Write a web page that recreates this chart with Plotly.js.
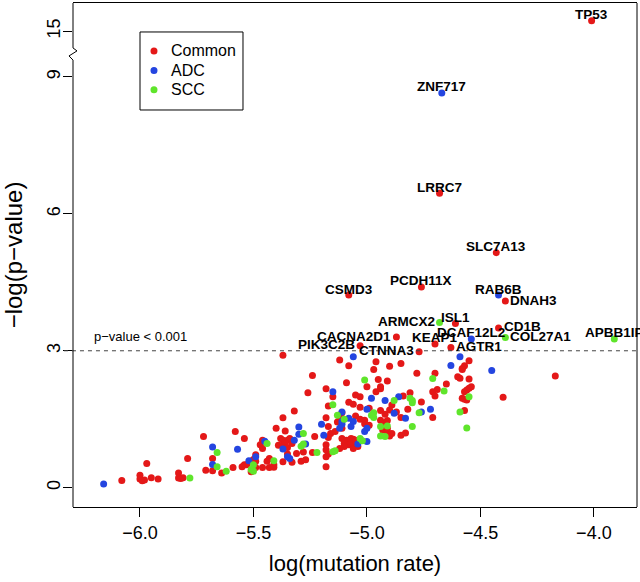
<!DOCTYPE html>
<html>
<head>
<meta charset="utf-8">
<script src="https://cdn.plot.ly/plotly-3.0.1.min.js"></script>
<style>
  html, body { margin: 0; padding: 0; background: #fff; }
  #chart { width: 640px; height: 582px; }
</style>
</head>
<body>
<div id="chart"></div>
<script>
// ---- data: log(mutation rate) vs -log(p-value), by group ----
const commonX = [
  -6.08, -6.00, -6.00, -5.99, -5.98, -5.95, -5.92, -5.97, -5.83, -5.83, -5.82, -5.81, -5.79, -5.72, -5.71,
  -5.68, -5.68, -5.64, -5.51, -5.37, -5.12, -5.24, -5.26, -5.18, -5.15, -5.32, -5.17, -5.37, -5.18, -5.13,
  -5.17, -5.40, -5.36, -5.23, -5.16, -5.14, -5.17, -5.11, -5.58, -5.54, -5.46, -5.47, -5.46, -5.38, -5.37,
  -5.35, -5.34, -5.39, -5.37, -5.36, -5.35, -5.33, -5.24, -5.28, -5.31, -5.35, -5.37, -5.33, -5.29, -5.27,
  -5.18, -5.18, -5.17, -5.18, -5.18, -5.59, -5.54, -5.53, -5.55, -5.49, -5.49, -5.50, -5.49, -5.46, -5.43,
  -5.41, -5.41, -5.44, -5.43, -4.96, -4.85, -5.08, -4.97, -4.78, -4.70, -4.58, -4.57, -4.60, -4.59, -4.95,
  -4.91, -5.09, -5.00, -4.94, -4.94, -4.96, -4.81, -4.71, -4.69, -4.70, -4.65, -5.05, -5.03, -4.84, -4.76,
  -4.89, -5.08, -5.06, -5.03, -4.99, -4.94, -4.92, -4.90, -4.87, -4.82, -4.71, -4.85, -5.11, -5.12, -5.05,
  -5.03, -5.01, -5.01, -4.99, -4.94, -4.92, -4.91, -4.93, -4.91, -4.91, -4.90, -4.89, -4.85, -4.83, -5.11,
  -5.09, -5.07, -5.06, -5.10, -5.08, -5.07, -5.05, -5.05, -5.10, -5.06, -5.04, -5.12, -4.55, -4.58, -4.17,
  -4.55, -4.55, -4.54, -4.56, -4.57, -4.57, -4.56, -4.58, -4.40, -4.57, -4.90
];
const commonY = [
  0.16, 0.27, 0.19, 0.15, 0.17, 0.22, 0.19, 0.53, 0.32, 0.21, 0.20, 0.22, 0.64, 1.12, 0.38,
  0.37, 0.64, 0.32, 0.35, 2.90, 2.80, 2.46, 2.08, 2.17, 1.99, 1.68, 1.79, 1.53, 1.53, 1.44,
  1.34, 1.30, 1.24, 1.12, 1.19, 1.23, 1.10, 1.30, 1.23, 1.08, 1.04, 0.94, 0.86, 1.08, 1.04,
  1.04, 1.08, 0.93, 0.93, 0.99, 0.88, 0.97, 0.77, 0.78, 0.75, 0.74, 0.57, 0.56, 0.58, 0.61,
  0.94, 0.83, 0.74, 0.68, 0.46, 0.44, 0.50, 0.50, 0.46, 0.72, 0.58, 0.62, 0.44, 0.44, 0.44,
  0.50, 0.45, 0.58, 0.64, 2.76, 2.72, 2.67, 2.59, 2.51, 2.51, 2.61, 2.67, 2.43, 2.40, 2.37,
  2.34, 2.30, 2.21, 2.21, 2.17, 2.10, 2.08, 2.10, 2.15, 2.01, 2.27, 2.03, 1.99, 2.01, 1.88,
  1.81, 1.87, 1.83, 1.76, 1.74, 1.69, 1.61, 1.70, 1.66, 1.72, 1.54, 1.54, 1.64, 1.55, 1.57,
  1.50, 1.48, 1.40, 1.37, 1.48, 1.42, 1.47, 1.26, 1.23, 1.30, 1.13, 1.19, 1.15, 1.20, 1.08,
  1.04, 1.08, 1.06, 0.97, 0.94, 0.97, 0.99, 1.04, 0.90, 0.86, 0.90, 0.86, 2.78, 2.59, 2.45,
  2.38, 2.18, 2.21, 2.14, 2.10, 1.94, 1.92, 1.96, 1.98, 1.69, 2.66
];

const adcX = [
  -6.16, -5.68, -5.68, -5.15, -5.11, -5.20, -5.11, -5.30, -5.30, -5.19, -5.45, -5.37, -5.32, -5.27, -5.35,
  -5.34, -5.57, -5.52, -5.49, -5.06, -4.63, -4.59, -4.98, -4.92, -4.86, -5.00, -4.88, -4.76, -4.72, -4.83,
  -5.11, -5.08, -5.07, -5.06, -5.00, -5.01, -5.12, -5.04, -5.00, -4.45
];
const adcY = [
  0.08, 0.89, 0.51, 2.10, 1.66, 1.39, 1.39, 1.33, 1.17, 1.15, 1.02, 0.85, 1.04, 0.96, 0.68,
  0.64, 0.84, 0.59, 0.68, 2.87, 2.68, 2.87, 1.96, 1.91, 1.99, 1.72, 1.63, 1.66, 1.72, 1.52,
  1.45, 1.52, 1.34, 1.45, 1.30, 1.23, 1.30, 0.96, 1.01, 2.57
];

const sccX = [
  -5.78, -5.66, -5.66, -5.62, -5.15, -5.13, -5.28, -5.44, -5.29, -5.28, -5.22, -5.15, -5.50, -5.51, -5.50,
  -5.41, -5.01, -4.71, -4.66, -4.88, -4.81, -4.80, -4.80, -4.97, -4.98, -4.97, -4.77, -5.10, -4.94, -4.91,
  -4.94, -4.92, -4.80, -5.03, -5.02, -5.14, -4.55, -4.59, -4.56
];
const sccY = [
  0.21, 0.77, 0.46, 0.36, 1.82, 1.59, 1.19, 0.97, 0.91, 0.96, 0.77, 0.79, 0.50, 0.40, 0.36,
  0.59, 2.36, 2.39, 2.12, 1.91, 1.96, 1.91, 1.86, 1.64, 1.59, 1.54, 1.64, 1.50, 1.34, 1.35,
  1.13, 1.12, 1.34, 1.08, 1.03, 0.81, 1.99, 1.66, 1.31
];

// named genes
const geneNames = ['TP53', 'ZNF717', 'LRRC7', 'SLC7A13', 'PCDH11X', 'CSMD3', 'RAB6B', 'DNAH3', 'ARMCX2', 'ISL1',
  'CD1B', 'DCAF12L2', 'COL27A1', 'APBB1IP', 'CACNA2D1', 'KEAP1', 'PIK3C2B', 'AGTR1', 'CTNNA3'];
const geneGroup = ['Common', 'ADC', 'Common', 'Common', 'Common', 'Common', 'ADC', 'Common', 'SCC', 'Common',
  'Common', 'ADC', 'SCC', 'SCC', 'Common', 'Common', 'Common', 'Common', 'Common'];
const geneX = [-4.01, -4.67, -4.68, -4.43, -4.76, -5.08, -4.42, -4.39, -4.68, -4.61,
  -4.42, -4.54, -4.39, -3.91, -4.87, -4.70, -5.03, -4.63, -4.77];
const geneY = [15.23, 8.65, 6.45, 5.15, 4.40, 4.22, 4.22, 4.09, 3.62, 3.60,
  3.50, 3.26, 3.29, 3.26, 3.30, 3.15, 3.11, 3.07, 2.98];

const groups = ['Common', 'ADC', 'SCC'];
const groupColors = { Common: '#E41818', ADC: '#2445E0', SCC: '#5FE52B' };
const cutoff = 3;

// label placement: above the point unless listed here
const labelSide = {
  DNAH3: 'right', CD1B: 'right', COL27A1: 'right', AGTR1: 'right',
  ARMCX2: 'left', CACNA2D1: 'left', PIK3C2B: 'left', CTNNA3: 'left'
};

// broken y axis: values above 9 are shifted down so 15 sits one unit above 9
const yBreak = 9, yGap = 5;
const ty = v => (v > yBreak ? v - yGap : v);

const FONT = 'Liberation Sans, Arial, Helvetica, sans-serif';
const xRange = [-6.295, -3.81];
const yRange = [-0.423, 10.62];

const base = { Common: [commonX, commonY], ADC: [adcX, adcY], SCC: [sccX, sccY] };
const traces = groups.map(g => {
  const xs = base[g][0].slice(), ys = base[g][1].slice();
  geneNames.forEach((n, i) => {
    if (geneGroup[i] === g) { xs.push(geneX[i]); ys.push(geneY[i]); }
  });
  return {
    type: 'scatter', mode: 'markers', name: g,
    x: xs, y: ys.map(ty),
    marker: { color: groupColors[g], size: 7, line: { width: 0 } },
    hoverinfo: 'skip', showlegend: false
  };
});

const annotations = geneNames.map((n, i) => {
  const side = labelSide[n] || 'top';
  const a = {
    x: geneX[i], y: ty(geneY[i]), text: '<b>' + n + '</b>', showarrow: false,
    font: { family: FONT, size: 13.5, color: '#000' }, yanchor: 'middle'
  };
  if (side === 'top') { a.xanchor = 'center'; a.yshift = 6; }
  else if (side === 'left') { a.xanchor = 'right'; a.xshift = -3; a.yshift = 1; }
  else { a.xanchor = 'left'; a.xshift = 3; a.yshift = 1; }
  return a;
});

annotations.push({
  xref: 'paper', x: 0.033, y: cutoff, yshift: 14, xanchor: 'left', yanchor: 'middle',
  text: 'p\u2212value < 0.001', showarrow: false, font: { family: FONT, size: 13, color: '#000' }
});

// legend box drawn by hand (R style)
const legY = [0.905, 0.866, 0.828];
groups.forEach((g, i) => {
  annotations.push({
    xref: 'paper', yref: 'paper', x: 0.17, y: legY[i], xanchor: 'left', yanchor: 'middle',
    text: g, showarrow: false, font: { family: FONT, size: 16, color: '#000' }
  });
});

const blk = { color: '#000', width: 1 };
const shapes = [
  // threshold line
  { type: 'line', xref: 'paper', x0: -0.016, x1: 1, y0: cutoff, y1: cutoff,
    line: { color: '#444', width: 1, dash: '4px,4px' } },
  // left axis, broken
  { type: 'line', xref: 'paper', x0: 0, x1: 0, yref: 'paper', y0: 0, y1: (9.37 - yRange[0]) / (yRange[1] - yRange[0]), line: blk },
  { type: 'line', xref: 'paper', x0: 0, x1: 0, yref: 'paper', y0: (9.635 - yRange[0]) / (yRange[1] - yRange[0]), y1: 1, line: blk },
  { type: 'path', xref: 'paper', yref: 'y',
    path: 'M 0,9.635 L 0.0071,9.57 L -0.0071,9.46 L 0,9.37', line: blk },
  // right border
  { type: 'line', xref: 'paper', yref: 'paper', x0: 1, x1: 1, y0: 0, y1: 1, line: blk },
  // legend frame
  { type: 'rect', xref: 'paper', yref: 'paper', x0: 0.1188, x1: 0.3014, y0: 0.7877, y1: 0.9425,
    line: blk, fillcolor: 'rgba(0,0,0,0)' }
];
groups.forEach((g, i) => {
  shapes.push({
    type: 'circle', xref: 'paper', yref: 'paper', xsizemode: 'pixel', ysizemode: 'pixel',
    xanchor: 0.1436, yanchor: legY[i], x0: -3.5, x1: 3.5, y0: -3.5, y1: 3.5,
    fillcolor: groupColors[g], line: { width: 0 }
  });
});

const layout = {
  width: 640, height: 582,
  margin: { l: 73, r: 3, t: 3, b: 75 },
  paper_bgcolor: '#fff', plot_bgcolor: '#fff',
  font: { family: FONT, color: '#000' },
  showlegend: false,
  xaxis: {
    range: xRange, showgrid: false, zeroline: false,
    showline: true, mirror: true, linecolor: '#000', linewidth: 1,
    tickvals: [-6, -5.5, -5, -4.5, -4],
    ticktext: ['\u22126.0', '\u22125.5', '\u22125.0', '\u22124.5', '\u22124.0'],
    ticks: 'outside', ticklen: 9, tickcolor: '#000',
    tickfont: { family: FONT, size: 18 },
    title: { text: 'log(mutation rate)', font: { family: FONT, size: 22 }, standoff: 14 }
  },
  yaxis: {
    range: yRange, showgrid: false, zeroline: false, showline: false,
    tickvals: [0, 3, 6, 9, 10], ticktext: ['0', '3', '6', '9', '15'],
    ticks: 'outside', ticklen: 9, tickcolor: '#000', tickangle: -90,
    ticklabelstandoff: -4,
    tickfont: { family: FONT, size: 18 },
    title: { text: '\u2212log(p\u2212value)', font: { family: FONT, size: 24 }, standoff: 14 }
  },
  shapes: shapes,
  annotations: annotations
};

Plotly.newPlot('chart', traces, layout, { displayModeBar: false, responsive: false });
</script>
</body>
</html>
